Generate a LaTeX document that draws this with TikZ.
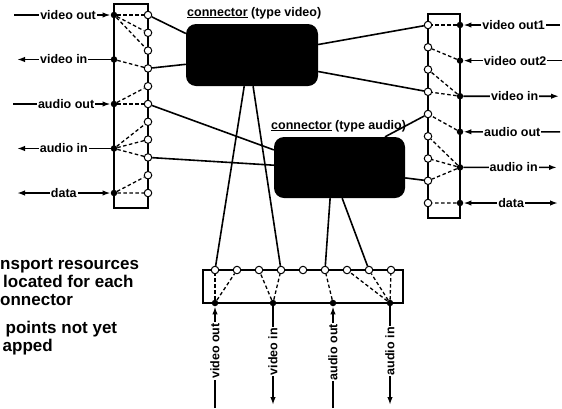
\documentclass[tikz,border=0pt]{standalone}
\usepackage{fontspec}
\setmainfont{Liberation Sans}
\usetikzlibrary{arrows.meta}

\begin{document}
\begin{tikzpicture}[
x=1pt, y=-1pt,
>={Latex[length=8pt,width=5.5pt]},
frame/.style={draw, line width=2pt, inner sep=0},
conn/.style={fill=black, rounded corners=10pt, inner sep=0},
dot/.style={circle, fill, inner sep=0, minimum size=6.5pt},
port/.style={circle, draw, fill=white, line width=1pt, inner sep=0, minimum size=7.5pt},
link/.style={line width=1.3pt, dash pattern=on 3.5pt off 2.5pt},
wire/.style={line width=1.6pt},
tag/.style={fill=white, inner sep=1pt, font=\bfseries\fontsize{12.5}{14}\selectfont},
note/.style={align=left, anchor=base west, inner sep=0, font=\bfseries\fontsize{17}{18}\selectfont}
]
\useasboundingbox (0,0) rectangle (562,408);
\node[frame, minimum width=34pt, minimum height=204pt] (lbox) at (131,106) {};
\node[frame, minimum width=32pt, minimum height=204pt] (rbox) at (444,116) {};
\node[frame, minimum width=200pt, minimum height=33pt] (bbox) at (303,286.5) {};
\node[conn, minimum width=132pt, minimum height=62pt] (video) at (252,55) {};
\node[conn, minimum width=131pt, minimum height=61pt] (audio) at (339.5,167.5) {};
\node[tag, fill=none, anchor=base west] (vlabel) at (186,16) {\underline{connector} (type video)};
\node[tag, fill=none, anchor=base west] (alabel) at (270,129) {\underline{connector} (type audio)};
\foreach \i in {1,...,11} \node[port] (lp\i) at (148,{15+17.8*(\i-1)}) {};
\foreach \i in {1,...,5} \node[dot] (ld\i) at (114,{15+44.5*(\i-1)}) {};
\foreach \i in {1,...,9} \node[port] (rp\i) at (428,{25+22.25*(\i-1)}) {};
\foreach \i in {1,...,6} \node[dot] (rd\i) at (460,{25+35.6*(\i-1)}) {};
\foreach \i in {1,...,9} \node[port] (bp\i) at ({215+22*(\i-1)},270) {};
\foreach \x [count=\i] in {215,273,333,390} \node[dot] (bd\i) at (\x,303) {};
\foreach \a/\b in {ld1/lp1, ld1/lp2, ld1/lp3, ld2/lp4, ld3/lp5, ld3/lp6, ld4/lp7, ld4/lp8, ld4/lp9, ld5/lp10, ld5/lp11,
  rd1/rp1, rd2/rp2, rd3/rp3, rd3/rp4, rd4/rp5, rd5/rp6, rd5/rp7, rd5/rp8, rd6/rp9,
  bd1/bp1, bd1/bp2, bd2/bp3, bd2/bp4, bd3/bp6, bd4/bp7, bd4/bp8, bd4/bp9}
  \draw[link] (\a) -- (\b);
\draw[wire] (lp1) -- (video.162);
\draw[wire] (lp4) -- (video.188);
\draw[wire] (rp1) -- (video.9);
\draw[wire] (rp4) -- (video.-14);
\draw[wire] (video.-104) -- (bp1);
\draw[wire] (video.-88) -- (bp4);
\draw[wire] (lp6) -- (audio.165);
\draw[wire] (lp9) -- (audio.178);
\draw[wire] (rp5) -- (audio.34);
\draw[wire] (rp8) -- (audio.-9);
\draw[wire] (audio.-107) -- (bp6);
\draw[wire] (audio.-85) -- (bp8);
\coordinate (lvo) at (14,15);
\coordinate (lvi) at (17,59.5);
\coordinate (lao) at (13,104);
\coordinate (lai) at (17,148.5);
\coordinate (ldata) at (17,193);
\draw[wire, ->] (lvo) -- node[tag, pos=0.56] (tlvo) {video out} (ld1);
\draw[wire, <-] (lvi) -- node[tag, pos=0.5] (tlvi) {video in} (ld2);
\draw[wire, ->] (lao) -- node[tag, pos=0.545] (tlao) {audio out} (ld3);
\draw[wire, <-] (lai) -- node[tag, pos=0.5] (tlai) {audio in} (ld4);
\draw[wire, <->] (ldata) -- node[tag, pos=0.5] (tldata) {data} (ld5);
\coordinate (rvo1) at (560,25);
\coordinate (rvo2) at (562,60.6);
\coordinate (rvi) at (559,96.2);
\coordinate (rao) at (560,131.8);
\coordinate (rai) at (557,167.4);
\coordinate (rdata) at (558,203);
\draw[wire, <-] (rd1) -- node[tag, pos=0.52] (trvo1) {video out1} (rvo1);
\draw[wire, <-] (rd2) -- node[tag, pos=0.525] (trvo2) {video out2} (rvo2);
\draw[wire, ->] (rd3) -- node[tag, pos=0.536] (trvi) {video in} (rvi);
\draw[wire, <-] (rd4) -- node[tag, pos=0.505] (trao) {audio out} (rao);
\draw[wire, ->] (rd5) -- node[tag, pos=0.537] (trai) {audio in} (rai);
\draw[wire, <->] (rd6) -- node[tag, pos=0.505] (trdata) {data} (rdata);
\coordinate (bvo) at (215,408);
\coordinate (bvi) at (273,405);
\coordinate (bao) at (333,408);
\coordinate (bai) at (390,405);
\draw[wire, ->] (bvo) -- node[tag, rotate=90, pos=0.56] (tbvo) {video out} (bd1);
\draw[wire, ->] (bd2) -- node[tag, rotate=90, pos=0.46] (tbvi) {video in} (bvi);
\draw[wire, ->] (bao) -- node[tag, rotate=90, pos=0.55] (tbao) {audio out} (bd3);
\draw[wire, ->] (bd4) -- node[tag, rotate=90, pos=0.455] (tbai) {audio in} (bai);
\node[note] (res) at (0,305) {nsport resources\\\hspace*{3pt}located for each\\onnector};
\node[note] (ends) at (0,351) {\hspace*{5.5pt}points not yet\\\hspace*{2.5pt}apped};
\end{tikzpicture}
\end{document}
